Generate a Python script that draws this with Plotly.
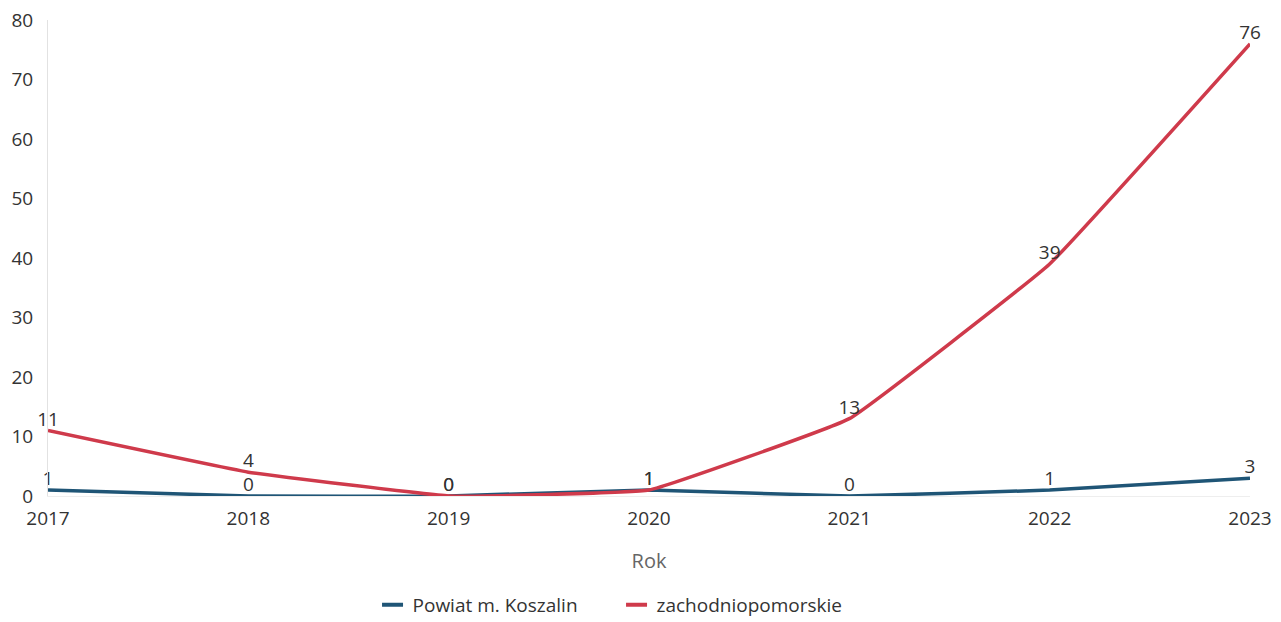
import plotly.graph_objects as go

years = [2017, 2018, 2019, 2020, 2021, 2022, 2023]
koszalin = [1, 0, 0, 1, 0, 1, 3]
zachodniopomorskie = [11, 4, 0, 1, 13, 39, 76]
y_ticks = [0, 10, 20, 30, 40, 50, 60, 70, 80]

BLUE = "#1f5576"
RED = "#cf3a4b"
TEXT = "#333333"

series = [("Powiat m. Koszalin", koszalin, BLUE),
          ("zachodniopomorskie", zachodniopomorskie, RED)]

fig = go.Figure()
for name, values, color in series:
    fig.add_trace(go.Scatter(
        x=years, y=values, name=name, showlegend=False,
        mode="lines+text", text=[str(v) for v in values],
        textposition="top center", textfont=dict(size=19, color=TEXT),
        line=dict(color=color, width=3.5, shape="spline", smoothing=0.25),
        cliponaxis=False,
    ))
# short dash legend keys
for name, values, color in series:
    fig.add_trace(go.Scatter(
        x=[None], y=[None], name=name, mode="markers",
        marker=dict(symbol="line-ew", size=15, line=dict(color=color, width=4)),
    ))

fig.update_layout(
    width=1281, height=622,
    margin=dict(l=48, r=31, t=20, b=126, autoexpand=False),
    paper_bgcolor="white", plot_bgcolor="white",
    font=dict(family="Open Sans", size=19, color=TEXT),
    showlegend=True,
    legend=dict(orientation="h", x=0.27, xanchor="left",
                yref="container", y=1 - 605 / 622, yanchor="middle",
                font=dict(size=19, color=TEXT), itemwidth=30,
                entrywidth=199, entrywidthmode="pixels", traceorder="normal"),
    xaxis=dict(
        range=[2017, 2023], tickvals=years, ticktext=[str(y) for y in years],
        showgrid=False, zeroline=False, showline=True, linecolor="#eeeeee", linewidth=1,
        ticks="outside", ticklen=5, tickcolor="white",
        tickfont=dict(size=19, color=TEXT), automargin=False,
        title=dict(text="Rok", font=dict(size=20, color="#666666"), standoff=24),
    ),
    yaxis=dict(
        range=[0, 80], tickvals=y_ticks, showgrid=False, zeroline=False,
        showline=True, linecolor="#e2e2e2", linewidth=1, automargin=False,
        ticks="", ticklabelstandoff=10, tickfont=dict(size=19, color=TEXT),
    ),
)

fig.write_html("out.html")
